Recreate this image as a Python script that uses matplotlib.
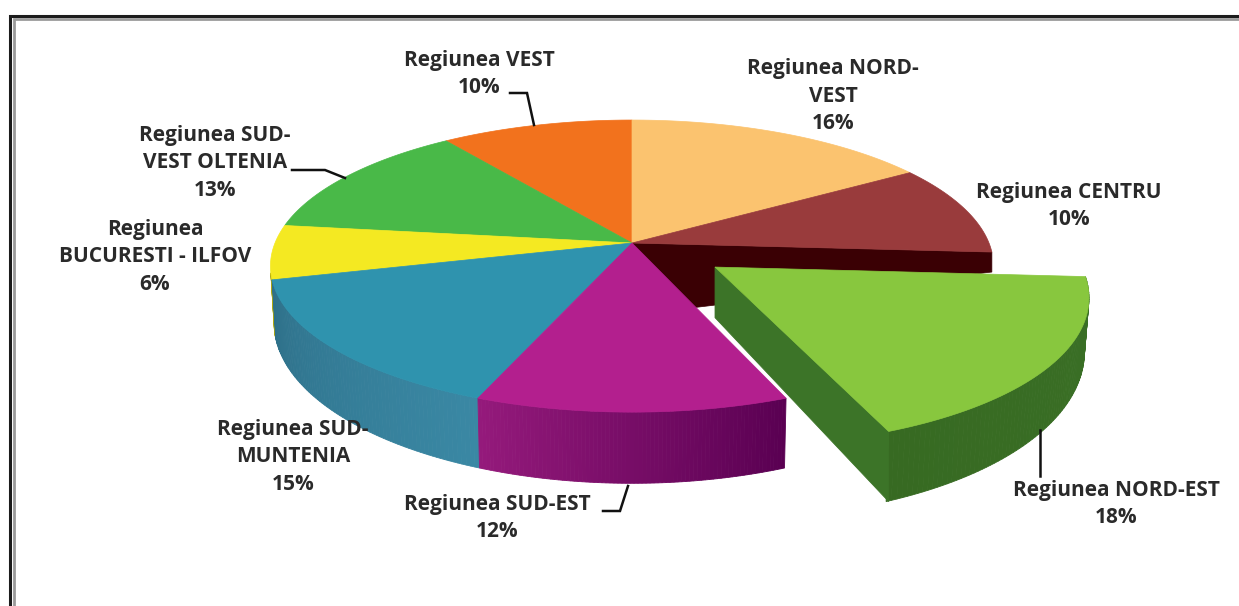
import numpy as np
import matplotlib
matplotlib.use("Agg")
import matplotlib.pyplot as plt
from matplotlib.patches import Polygon
from matplotlib.colors import to_rgb

# ---- data ----
regions = ["Regiunea NORD-\nVEST", "Regiunea CENTRU", "Regiunea NORD-EST", "Regiunea SUD-EST",
           "Regiunea SUD-\nMUNTENIA", "Regiunea\nBUCURESTI - ILFOV",
           "Regiunea SUD-\nVEST OLTENIA", "Regiunea VEST"]
shares = [16, 10, 18, 12, 15, 6, 13, 10]

# ---- styles / layout ----
top_colors = ["#FBC36F", "#993B3C", "#88C73E", "#B31F8E", "#2F93AE", "#F4E922", "#49B948", "#F2721D"]
wall_left = ["#B98A45", "#3A0004", "#3A7026", "#5A0052", "#3A88A4", "#B0A810", "#2F8A30", "#B0500F"]
wall_right = ["#B98A45", "#3A0004", "#376A22", "#951A7C", "#2E7089", "#B0A810", "#2F8A30", "#B0500F"]
exploded = [0, 0, 0.28, 0, 0, 0, 0, 0]
label_pos = [(833, 96), (1069, 206), (1116, 504), (497, 518), (293, 457), (155, 257), (215, 163), (479, 74)]
leaders = [
    [(1040, 430), (1040, 476)], [(603, 511), (620, 511), (628, 486)],
    [(292, 170), (325, 170), (345, 178)], [(510, 93), (527, 93), (534, 125)],
]
CX, CY, RX, RY, K = 632, 243, 357, 142.4, 0.158
FONT = dict(family=["Open Sans", "DejaVu Sans"], fontsize=15, fontweight="bold", color="#2a2a2a",
            ha="center", va="center", linespacing=1.43)

fig = plt.figure(figsize=(12.39, 6.06), dpi=100, facecolor="white")
ax = fig.add_axes([0, 0, 1, 1])
ax.set_xlim(0, 1239)
ax.set_ylim(606, 0)
ax.axis("off")

# frame
ax.plot([9.5, 9.5, 1239], [606, 15.5, 15.5], color="#1c1c1c", lw=2.2, solid_joinstyle="miter")
ax.plot([14, 14, 1239], [606, 18.5, 18.5], color="#9a9a9a", lw=2, solid_joinstyle="miter")


def project(u, v):
    den = 1 + K * v
    return CX + RX * u / den, CY - RY * v / den


def drop(v, big):
    den = 1 + K * v
    return 48 * den ** -2.0 if big else 55 * den ** -1.5


def unit(frac):
    a = 2 * np.pi * frac
    return np.sin(a), np.cos(a)


def wall_quad(pts_u, pts_v, big):
    x, y = project(pts_u, pts_v)
    xb = CX + (x - CX) * 0.99
    yb = y + drop(pts_v, big)
    return x, y, xb, yb


def draw_slice(i, start, end, z):
    e = exploded[i]
    eu, ev = unit((start + end) / 2)
    eu, ev = eu * e, ev * e
    t = np.linspace(start, end, 80)
    u, v = unit(t)
    u, v = u + eu, v + ev
    big = e > 0
    limit = 0.0 if big else -0.4
    # side wall along the rim, in the front part only
    x, y, xb, yb = wall_quad(u, v, big)
    c0, c1 = np.array(to_rgb(wall_left[i])), np.array(to_rgb(wall_right[i]))
    for j in range(len(t) - 1):
        if unit(t[j])[1] + unit(t[j + 1])[1] < limit:
            f = (t[j] - start) / (end - start)
            col = c0 * (1 - f) + c1 * f
            ax.add_patch(Polygon([(x[j], y[j]), (x[j + 1], y[j + 1]), (xb[j + 1], yb[j + 1]), (xb[j], yb[j])],
                                 facecolor=col, edgecolor=col, lw=0.6, zorder=z))
    # radial cut face of the exploded slice
    if big:
        ue, ve = u[-1], v[-1]
        px, py = project(np.array([eu, ue]), np.array([ev, ve]))
        qy = py + drop(np.array([ev, ve]), True)
        ax.add_patch(Polygon([(px[0], py[0]), (px[1], py[1]), (px[1], qy[1]), (px[0], qy[0])],
                             facecolor="#3C7428", edgecolor="#3C7428", lw=0.6, zorder=z))
    # top surface
    cx, cy = project(eu, ev)
    ax.add_patch(Polygon(np.vstack([[cx, cy], np.column_stack([x, y])]),
                         facecolor=top_colors[i], edgecolor=top_colors[i], lw=0.5, zorder=z + 1))


fracs = np.cumsum([0] + shares) / sum(shares)

# radial face of the CENTRU slice, exposed by the exploded neighbour
ru, rv = unit(fracs[2])
rx, ry = project(ru, rv)
ax.add_patch(Polygon([(CX, CY), (rx, ry), (rx, ry + 20), (CX, CY + 72)],
                     facecolor="#3A0004", edgecolor="#3A0004", lw=0.5, zorder=1))

order = [7, 0, 6, 1, 5, 4, 3, 2]
for rank, i in enumerate(order):
    draw_slice(i, fracs[i], fracs[i + 1], 5 + 2 * rank)

for pts in leaders:
    xs, ys = zip(*pts)
    ax.plot(xs, ys, color="#111111", lw=1.8, zorder=40, solid_joinstyle="miter")

for name, val, (lx, ly) in zip(regions, shares, label_pos):
    ax.text(lx, ly, f"{name}\n{val}%", zorder=50, **FONT)

fig.savefig("out.png", dpi=100, facecolor="white")
